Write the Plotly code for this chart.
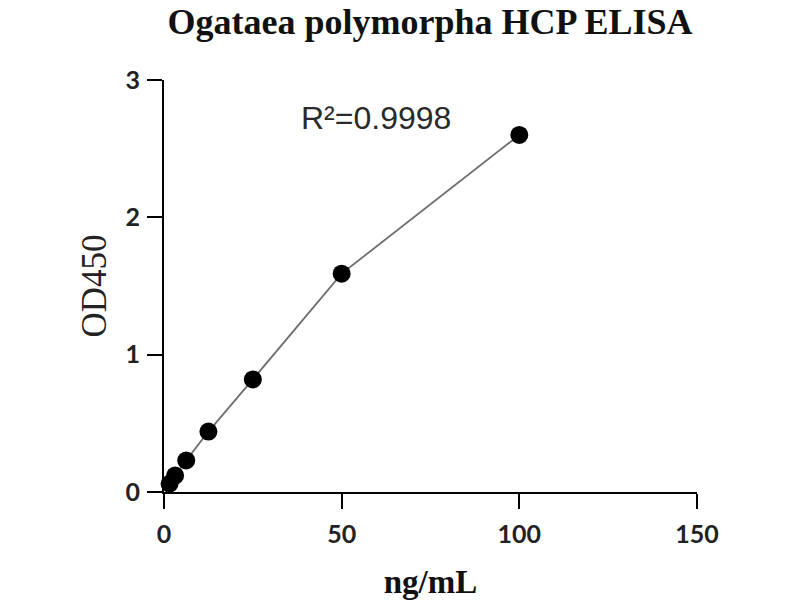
import plotly.graph_objects as go

# Standard curve (2-fold dilution series)
conc_ng_ml = [1.5625, 3.125, 6.25, 12.5, 25, 50, 100]
od450 = [0.06, 0.12, 0.23, 0.44, 0.82, 1.59, 2.60]

x_ticks = [0, 50, 100, 150]
y_ticks = [0, 1, 2, 3]
r2_label = "R²=0.9998"

fig = go.Figure()

fig.add_trace(go.Scatter(
    x=conc_ng_ml, y=od450,
    mode='lines+markers',
    line=dict(color='#6e6e6e', width=1.8),
    marker=dict(size=18, color='black'),
    cliponaxis=False,
    showlegend=False
))

fig.add_annotation(
    x=59.7, y=2.72, xref='x', yref='y',
    text=r2_label, showarrow=False,
    font=dict(family='Liberation Sans, Arial', size=32, color='#2a2a2a')
)

serif = 'Liberation Serif, Times New Roman, serif'
axis_common = dict(
    showline=True, linecolor='black', linewidth=2,
    ticks='outside', ticklen=15, tickwidth=2, tickcolor='black',
    showgrid=False, zeroline=False, automargin=False,
    tickfont=dict(family='Lato, Open Sans, sans-serif', size=25, color='#222', weight='bold'),
)

fig.update_xaxes(range=[0, 150], tickvals=x_ticks, ticklabelstandoff=4,
                 title=dict(text='ng/mL', standoff=24,
                            font=dict(family=serif, size=33, color='#111', weight='bold')),
                 **axis_common)
fig.update_yaxes(range=[0, 3], tickvals=y_ticks, ticklabelstandoff=2,
                 title=dict(text='OD450', standoff=8,
                            font=dict(family=serif, size=35, color='#222')),
                 **axis_common)

fig.update_layout(
    width=800, height=600,
    margin=dict(l=164, r=103, t=80, b=108),
    paper_bgcolor='white', plot_bgcolor='white',
    title=dict(text='Ogataea polymorpha HCP ELISA', x=0.5375, xanchor='center',
               y=0.986, yanchor='top',
               font=dict(family=serif, size=36, color='#111', weight='bold')),
)

# page has a default 8px body margin; drop it so the figure sits at the corner
fig.write_html("out.html", config={'displayModeBar': False},
               post_script="document.body.style.margin='0';")
